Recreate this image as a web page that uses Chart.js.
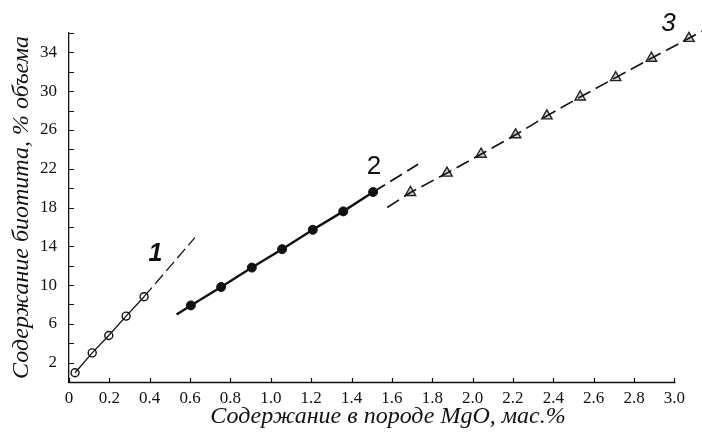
<!DOCTYPE html>
<html>
<head>
<meta charset="utf-8">
<script src="https://cdn.jsdelivr.net/npm/chart.js@4.4.0/dist/chart.umd.min.js"></script>
<style>
  html, body { margin: 0; padding: 0; background: #fff; }
  #wrap { width: 702px; height: 432px; }
</style>
</head>
<body>
<div id="wrap"><canvas id="chart"></canvas></div>
<script>
// Curve 1 – open circles
const mgo1 = [0.03, 0.115, 0.197, 0.283, 0.372];
const bio1 = [0.95, 3.0, 4.8, 6.8, 8.8];
const trend1X = [0.372, 0.624];
const trend1Y = [8.8, 14.9];

// Curve 2 – filled circles
const mgo2 = [0.604, 0.754, 0.906, 1.056, 1.208, 1.359, 1.507];
const bio2 = [7.9, 9.8, 11.8, 13.7, 15.7, 17.6, 19.6];
const lead2X = [0.533, 0.604];
const lead2Y = [6.96, 7.9];
const trend2X = [1.507, 1.73];
const trend2Y = [19.6, 22.46];

// Curve 3 – triangles
const mgo3 = [1.692, 1.873, 2.042, 2.213, 2.368, 2.533, 2.709, 2.886, 3.072];
const bio3 = [19.55, 21.55, 23.5, 25.5, 27.45, 29.4, 31.4, 33.4, 35.45];
const trend3X = [1.577, 3.2];
const trend3Y = [18.0, 36.9];

// curve numbers
const tagText = ['1', '2', '3'];
const tagX = [0.428, 1.511, 2.97];
const tagY = [13.16, 22.18, 36.99];

// axis ticks
const xTickVals = [0, 0.2, 0.4, 0.6, 0.8, 1.0, 1.2, 1.4, 1.6, 1.8, 2.0, 2.2, 2.4, 2.6, 2.8, 3.0];
const yLabelVals = [2, 6, 10, 14, 18, 22, 26, 30, 34];
const xAxisEnd = 3.0;

const pts = (xs, ys) => xs.map((x, i) => ({ x: x, y: ys[i] }));

const serif = "'Liberation Serif', 'DejaVu Serif', serif";
const sans = "'Liberation Sans', Arial, sans-serif";

// x axis line, inward ticks, curve numbers and x title
const decor = {
  id: 'decor',
  afterDraw(chart) {
    const { ctx, scales: { x, y }, chartArea } = chart;
    ctx.save();
    ctx.strokeStyle = '#111';
    ctx.lineWidth = 1.3;
    ctx.beginPath();
    const by = Math.round(chartArea.bottom) + 0.5;
    ctx.moveTo(chartArea.left, by);
    ctx.lineTo(x.getPixelForValue(xAxisEnd) + 1, by);
    ctx.stroke();

    ctx.lineWidth = 1.2;
    ctx.beginPath();
    y.ticks.forEach(t => {
      const py = Math.round(y.getPixelForValue(t.value)) + 0.5;
      ctx.moveTo(chartArea.left, py);
      ctx.lineTo(chartArea.left + 5, py);
    });
    x.ticks.forEach(t => {
      const px = Math.round(x.getPixelForValue(t.value)) + 0.5;
      ctx.moveTo(px, chartArea.bottom);
      ctx.lineTo(px, chartArea.bottom - 4);
    });
    ctx.stroke();

    ctx.fillStyle = '#111';
    ctx.textAlign = 'center';
    ctx.textBaseline = 'middle';
    const tagFonts = ['italic bold 25px ' + sans, '26px ' + sans, 'italic 26px ' + sans];
    tagText.forEach((t, i) => {
      ctx.font = tagFonts[i];
      ctx.fillText(t, x.getPixelForValue(tagX[i]), y.getPixelForValue(tagY[i]));
    });

    ctx.font = 'italic 24px ' + serif;
    ctx.fillText('Содержание в породе MgO, мас.%', 388, 417);
    ctx.restore();
  }
};

new Chart(document.getElementById('chart'), {
  type: 'scatter',
  data: {
    datasets: [
      { data: pts(mgo1, bio1), showLine: true, borderColor: '#111', borderWidth: 1.3,
        pointRadius: 0 },
      { data: pts(trend1X, trend1Y), showLine: true, borderColor: '#111', borderWidth: 1.3,
        borderDash: [12, 5], pointRadius: 0 },
      { data: pts(mgo1, bio1), showLine: false, pointStyle: 'circle', pointRadius: 4,
        pointBorderWidth: 1.4, pointBorderColor: '#111', pointBackgroundColor: '#fff' },

      { data: pts(lead2X, lead2Y).concat(pts(mgo2, bio2)), showLine: true, borderColor: '#111',
        borderWidth: 2.4, pointRadius: 0 },
      { data: pts(trend2X, trend2Y), showLine: true, borderColor: '#111', borderWidth: 1.8,
        borderDash: [14, 6], pointRadius: 0 },
      { data: pts(mgo2, bio2), showLine: false, pointStyle: 'circle', pointRadius: 4.5,
        pointBorderWidth: 1, pointBorderColor: '#111', pointBackgroundColor: '#111' },

      { data: [{ x: trend3X[0], y: trend3Y[0] }].concat(pts(mgo3, bio3), [{ x: trend3X[1], y: trend3Y[1] }]),
        showLine: true, borderColor: '#111', borderWidth: 1.6, borderDash: [14, 6],
        pointRadius: 0, clip: false },
      { data: pts(mgo3, bio3), showLine: false, pointStyle: 'triangle', pointRadius: 6,
        pointBorderWidth: 1.4, pointBorderColor: '#222', pointBackgroundColor: '#d4d4d4', clip: false }
    ]
  },
  options: {
    responsive: true,
    maintainAspectRatio: false,
    animation: false,
    layout: { padding: { top: 33, right: 5.8, left: 0, bottom: 0 } },
    plugins: { legend: { display: false }, tooltip: { enabled: false } },
    scales: {
      x: {
        type: 'linear', min: 0, max: 3.1,
        afterFit: s => { s.height = 50; },
        afterBuildTicks: s => { s.ticks = xTickVals.map(v => ({ value: v })); },
        grid: { drawOnChartArea: false, drawTicks: false },
        border: { display: false },
        ticks: {
          padding: 6, color: '#111', autoSkip: false, maxRotation: 0,
          font: { family: serif, size: 17 },
          callback: v => (Math.abs(v) < 1e-9 ? '0' : v.toFixed(1))
        },
        title: { display: false }
      },
      y: {
        type: 'linear', min: 0, max: 36,
        afterFit: s => { s.width = 69; },
        grid: { drawOnChartArea: false, drawTicks: false },
        border: { display: true, color: '#111', width: 1.3 },
        ticks: {
          stepSize: 2, padding: 12, color: '#111', autoSkip: false,
          font: { family: serif, size: 17 },
          callback: v => (yLabelVals.includes(Math.round(v)) ? String(Math.round(v)) : '')
        },
        title: {
          display: true, text: 'Содержание биотита, % объема', color: '#111',
          font: { family: serif, size: 24, style: 'italic' }, padding: { top: 7, bottom: 0 }
        }
      }
    }
  },
  plugins: [decor]
});
</script>
</body>
</html>
